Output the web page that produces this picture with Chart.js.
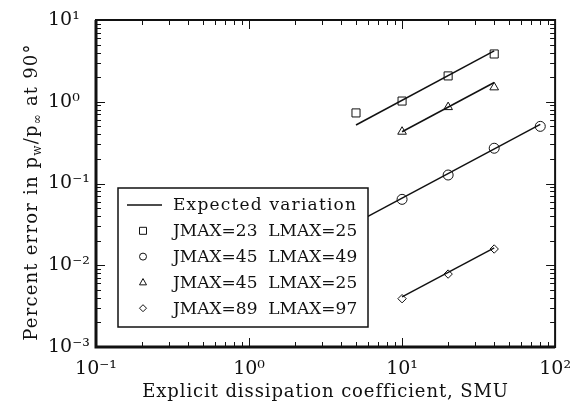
<!DOCTYPE html>
<html>
<head>
<meta charset="utf-8">
<script src="https://cdn.jsdelivr.net/npm/chart.js@4.4.1/dist/chart.umd.min.js"></script>
<style>
  html, body { margin: 0; padding: 0; background: #fff; }
  #wrap { width: 582px; height: 403px; }
</style>
</head>
<body>
<div id="wrap"><canvas id="chart"></canvas></div>
<script>
const xTicks = [0.1, 1, 10, 100];
const xLabels = ['10⁻¹', '10⁰', '10¹', '10²'];
const yTicks = [0.001, 0.01, 0.1, 1, 10];
const yLabels = ['10⁻³', '10⁻²', '10⁻¹', '10⁰', '10¹'];

// measured points: explicit dissipation (SMU) vs percent error
const smuJ23L25 = [5, 10, 20, 40];
const errJ23L25 = [0.73, 1.02, 2.07, 3.84];
const smuJ45L49 = [10, 20, 40, 80];
const errJ45L49 = [0.064, 0.127, 0.27, 0.50];
const smuJ45L25 = [10, 20, 40];
const errJ45L25 = [0.43, 0.86, 1.5];
const smuJ89L97 = [10, 20, 40];
const errJ89L97 = [0.0039, 0.0078, 0.0158];

// expected variation, end points of each line
const fitSmuJ23L25 = [5, 40];
const fitErrJ23L25 = [0.52, 4.2];
const fitSmuJ45L49 = [3, 80];
const fitErrJ45L49 = [0.0199, 0.53];
const fitSmuJ45L25 = [10, 40];
const fitErrJ45L25 = [0.43, 1.72];
const fitSmuJ89L97 = [10, 40];
const fitErrJ89L97 = [0.0041, 0.0163];

const legendLabels = ['Expected variation', 'JMAX=23  LMAX=25', 'JMAX=45  LMAX=49',
                      'JMAX=45  LMAX=25', 'JMAX=89  LMAX=97'];
const legendMarks = ['line', 'rect', 'circle', 'triangle', 'rectRot'];

const FONT = 'DejaVu Serif';
const INK = '#111';

const pts = (xs, ys) => xs.map((x, i) => ({ x: x, y: ys[i] }));

function markers(xs, ys, style, r) {
  return {
    data: pts(xs, ys), showLine: false, pointStyle: style, pointRadius: r,
    pointBorderColor: INK, pointBackgroundColor: 'rgba(0,0,0,0)', pointBorderWidth: 1
  };
}
function fit(xs, ys) {
  return {
    data: pts(xs, ys), showLine: true, pointRadius: 0,
    borderColor: INK, borderWidth: 1.5
  };
}

function drawMark(ctx, style, x, y, r) {
  ctx.beginPath();
  if (style === 'rect') {
    ctx.rect(x - r, y - r, 2 * r, 2 * r);
  } else if (style === 'circle') {
    ctx.arc(x, y, r, 0, Math.PI * 2);
  } else if (style === 'triangle') {
    ctx.moveTo(x, y - r * 1.1);
    ctx.lineTo(x + r, y + r * 0.7);
    ctx.lineTo(x - r, y + r * 0.7);
    ctx.closePath();
  } else {
    ctx.moveTo(x, y - r); ctx.lineTo(x + r, y);
    ctx.lineTo(x, y + r); ctx.lineTo(x - r, y);
    ctx.closePath();
  }
  ctx.stroke();
}

const decorPlugin = {
  id: 'decor',
  afterDatasetsDraw(chart) {
    const { ctx, chartArea: a, scales: { x, y } } = chart;
    ctx.save();
    ctx.strokeStyle = INK;
    ctx.fillStyle = INK;

    // inward ticks on all four sides
    ctx.lineWidth = 1;
    ctx.beginPath();
    for (let e = -1; e < 2; e++) {
      for (let k = 1; k < 10; k++) {
        const px = Math.round(x.getPixelForValue(k * Math.pow(10, e))) + 0.5;
        const len = k === 1 ? 9 : 5;
        ctx.moveTo(px, a.bottom); ctx.lineTo(px, a.bottom - len);
        ctx.moveTo(px, a.top); ctx.lineTo(px, a.top + len);
      }
    }
    for (let e = -3; e < 1; e++) {
      for (let k = 1; k < 10; k++) {
        const py = Math.round(y.getPixelForValue(k * Math.pow(10, e))) + 0.5;
        const len = k === 1 ? 9 : 5;
        ctx.moveTo(a.left, py); ctx.lineTo(a.left + len, py);
        ctx.moveTo(a.right, py); ctx.lineTo(a.right - len, py);
      }
    }
    ctx.stroke();

    // frame
    ctx.lineWidth = 2;
    ctx.strokeRect(a.left, a.top, a.right - a.left, a.bottom - a.top);
    ctx.lineWidth = 3;
    ctx.beginPath();
    ctx.moveTo(a.left, a.top); ctx.lineTo(a.left, a.bottom); ctx.lineTo(a.right, a.bottom);
    ctx.stroke();

    // legend box inside the plot
    const bx = a.left + 22, by = a.top + 168, bw = 250, bh = 139;
    ctx.fillStyle = '#fff';
    ctx.fillRect(bx, by, bw, bh);
    ctx.lineWidth = 1.5;
    ctx.strokeRect(bx, by, bw, bh);
    ctx.fillStyle = INK;
    ctx.font = '17px "' + FONT + '"';
    ctx.textBaseline = 'middle';
    ctx.textAlign = 'left';
    legendLabels.forEach((lab, i) => {
      const ry = by + 17 + i * 25.8;
      if (legendMarks[i] === 'line') {
        ctx.lineWidth = 1.5;
        ctx.beginPath(); ctx.moveTo(bx + 9, ry); ctx.lineTo(bx + 44, ry); ctx.stroke();
        ctx.letterSpacing = '1.2px';
      } else {
        ctx.lineWidth = 1;
        drawMark(ctx, legendMarks[i], bx + 25, ry, 3.5);
        ctx.letterSpacing = '0px';
      }
      ctx.fillText(lab, bx + 55, ry + 1);
    });

    // x title
    ctx.textAlign = 'center';
    ctx.font = '18px "' + FONT + '"';
    ctx.letterSpacing = '0.9px';
    ctx.fillText('Explicit dissipation coefficient, SMU', (a.left + a.right) / 2, 392);

    // y title with subscripts
    const parts = [['Percent error in p', 0], ['w', 1], ['/p', 0], ['∞', 1], [' at 90°', 0]];
    const big = '18px "' + FONT + '"', small = '12px "' + FONT + '"';
    ctx.letterSpacing = '1.2px';
    let total = 0;
    parts.forEach(p => { ctx.font = p[1] ? small : big; total += ctx.measureText(p[0]).width; });
    ctx.translate(31, 192);
    ctx.rotate(-Math.PI / 2);
    ctx.textAlign = 'left';
    ctx.textBaseline = 'alphabetic';
    let cx = -total / 2;
    parts.forEach(p => {
      ctx.font = p[1] ? small : big;
      ctx.fillText(p[0], cx, p[1] ? 10 : 6);
      cx += ctx.measureText(p[0]).width;
    });
    ctx.restore();
  }
};

new Chart(document.getElementById('chart'), {
  type: 'scatter',
  data: {
    datasets: [
      markers(smuJ23L25, errJ23L25, 'rect', 5.7),
      markers(smuJ45L49, errJ45L49, 'circle', 5),
      markers(smuJ45L25, errJ45L25, 'triangle', 5),
      markers(smuJ89L97, errJ89L97, 'rectRot', 4.2),
      fit(fitSmuJ23L25, fitErrJ23L25),
      fit(fitSmuJ45L49, fitErrJ45L49),
      fit(fitSmuJ45L25, fitErrJ45L25),
      fit(fitSmuJ89L97, fitErrJ89L97)
    ]
  },
  options: {
    responsive: true,
    maintainAspectRatio: false,
    animation: false,
    layout: { padding: { left: 48, right: 24, top: 20, bottom: 0 } },
    plugins: { legend: { display: false }, tooltip: { enabled: false } },
    scales: {
      x: {
        type: 'logarithmic', min: 0.1, max: 100,
        grid: { display: false, drawTicks: false }, border: { display: false },
        afterBuildTicks: s => { s.ticks = xTicks.map(v => ({ value: v, major: true })); },
        afterFit: s => { s.height = 56; },
        ticks: {
          autoSkip: false, maxRotation: 0, padding: 11, color: INK,
          font: { family: FONT, size: 19 },
          callback: v => xLabels[xTicks.indexOf(v)]
        }
      },
      y: {
        type: 'logarithmic', min: 0.001, max: 10,
        grid: { display: false, drawTicks: false }, border: { display: false },
        afterBuildTicks: s => { s.ticks = yTicks.map(v => ({ value: v, major: true })); },
        afterFit: s => { s.width = 48; },
        ticks: {
          autoSkip: false, crossAlign: 'far', color: INK,
          font: { family: FONT, size: 19 },
          callback: v => yLabels[yTicks.indexOf(v)]
        }
      }
    }
  },
  plugins: [decorPlugin]
});
</script>
</body>
</html>
